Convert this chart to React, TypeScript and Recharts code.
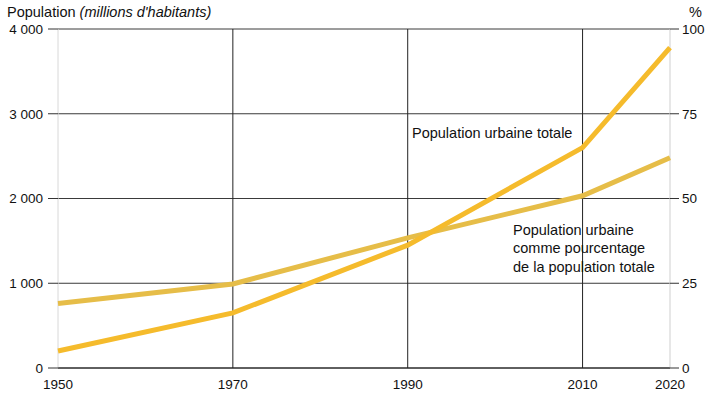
import React from "react";
import {
  CartesianGrid,
  Line,
  LineChart,
  ReferenceLine,
  XAxis,
  YAxis,
} from "recharts";

// years on the x axis
const years = [1950, 1970, 1990, 2010, 2020];
// total urban population, millions
const urbanTotal = [200, 650, 1450, 2600, 3780];
// urban population as % of total population
const urbanShare = [19, 24.8, 38.4, 50.8, 62];

const leftTicks = [0, 1000, 2000, 3000, 4000];
const rightTicks = [0, 25, 50, 75, 100];

const data = years.map((year, i) => ({
  year,
  total: urbanTotal[i],
  share: urbanShare[i],
}));

const FONT = "'Liberation Sans', Arial, sans-serif";
const TOTAL_COLOR = "#f5bb2c";
const SHARE_COLOR = "#e6bd48";

const fmtThousands = (v: number) =>
  v >= 1000 ? `${Math.floor(v / 1000)} ${String(v % 1000).padStart(3, "0")}` : String(v);

export default function App() {
  const tick = { fill: "#111", fontSize: 13.5, fontFamily: FONT };
  return (
    <div
      style={{
        position: "absolute",
        left: 0,
        top: 0,
        width: 708,
        height: 397,
        background: "#fff",
        fontFamily: FONT,
      }}
    >
      <LineChart
        width={708}
        height={397}
        data={data}
        margin={{ top: 29, right: 0, bottom: 0, left: 0 }}
      >
        <CartesianGrid vertical={false} stroke="#3a3a3a" strokeWidth={1} yAxisId="left" />
        <XAxis
          dataKey="year"
          type="number"
          domain={[1950, 2020]}
          ticks={years}
          tick={tick}
          tickLine={false}
          tickSize={0}
          tickMargin={11}
          height={29}
          axisLine={{ stroke: "#222" }}
        />
        <YAxis
          yAxisId="left"
          domain={[0, 4000]}
          ticks={leftTicks}
          tickFormatter={fmtThousands}
          tick={tick}
          tickSize={10}
          tickMargin={5}
          tickLine={{ stroke: "#333" }}
          axisLine={false}
          width={58}
        />
        <YAxis
          yAxisId="right"
          orientation="right"
          domain={[0, 100]}
          ticks={rightTicks}
          tick={tick}
          tickSize={9}
          tickMargin={3}
          tickLine={{ stroke: "#333" }}
          axisLine={false}
          width={38}
        />
        <ReferenceLine yAxisId="left" x={1950} stroke="#d8d8d8" />
        <ReferenceLine yAxisId="left" x={2020} stroke="#cfcfcf" />
        <ReferenceLine yAxisId="left" x={1970} stroke="#222" />
        <ReferenceLine yAxisId="left" x={1990} stroke="#222" />
        <ReferenceLine yAxisId="left" x={2010} stroke="#222" />
        <Line
          yAxisId="right"
          dataKey="share"
          stroke={SHARE_COLOR}
          strokeWidth={5}
          dot={false}
          type="linear"
          isAnimationActive={false}
        />
        <Line
          yAxisId="left"
          dataKey="total"
          stroke={TOTAL_COLOR}
          strokeWidth={5}
          dot={false}
          type="linear"
          isAnimationActive={false}
        />
      </LineChart>
      <div style={{ position: "absolute", left: 7, top: 4, fontSize: 14.5, color: "#111", whiteSpace: "nowrap" }}>
        Population <i>(millions d'habitants)</i>
      </div>
      <div style={{ position: "absolute", left: 689, top: 4, fontSize: 14.5, color: "#111" }}>%</div>
      <div style={{ position: "absolute", left: 412, top: 125, fontSize: 14.5, color: "#111", whiteSpace: "nowrap" }}>
        Population urbaine totale
      </div>
      <div
        style={{
          position: "absolute",
          left: 513,
          top: 221,
          fontSize: 14.5,
          lineHeight: "18.3px",
          color: "#111",
          whiteSpace: "nowrap",
        }}
      >
        Population urbaine
        <br />
        comme pourcentage
        <br />
        de la population totale
      </div>
    </div>
  );
}
